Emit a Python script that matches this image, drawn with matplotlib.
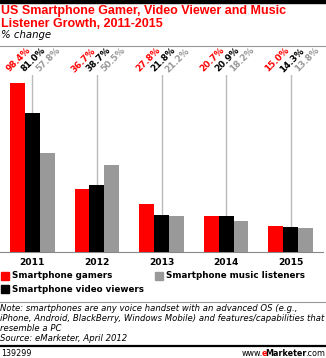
import numpy as np
import matplotlib.pyplot as plt
from matplotlib.lines import Line2D
from matplotlib.patches import Rectangle

years = ["2011", "2012", "2013", "2014", "2015"]
gamers = [98.4, 36.7, 27.8, 20.7, 15.0]
video = [81.0, 38.7, 21.8, 20.9, 14.3]
music = [57.8, 50.5, 21.2, 18.2, 13.8]

series = [
    ("Smartphone gamers", gamers, "#ff0000"),
    ("Smartphone video viewers", video, "#000000"),
    ("Smartphone music listeners", music, "#999999"),
]

W, H = 326, 358
plt.rcParams["font.family"] = ["DejaVu Sans"]
fig = plt.figure(figsize=(W / 100, H / 100), dpi=100)


def fy(px):
    return 1 - px / H


def fx(px):
    return px / W


# top bar and separators
fig.add_artist(Rectangle((0, fy(3)), 1, 3 / H, color="black", transform=fig.transFigure))
fig.add_artist(Line2D([0, 1], [fy(46), fy(46)], color="#999999", lw=0.8, transform=fig.transFigure))
fig.add_artist(Line2D([0, 1], [fy(302), fy(302)], color="#999999", lw=0.8, transform=fig.transFigure))
fig.add_artist(Line2D([0, 1], [fy(346), fy(346)], color="black", lw=1.6, transform=fig.transFigure))

fig.text(fx(1), fy(5), "US Smartphone Gamer, Video Viewer and Music\nListener Growth, 2011-2015",
         color="#ff0000", fontsize=9.0, fontweight="bold", family="Liberation Sans",
         va="top", ha="left", linespacing=1.08)
fig.text(fx(1), fy(30), "% change", fontsize=7.3, style="italic", va="top", ha="left")

ax = fig.add_axes([0, fy(252), 323 / W, 177 / H])
x = np.arange(len(years))
bw = 0.23
for i, (name, vals, col) in enumerate(series):
    ax.bar(x + (i - 1) * bw, vals, bw, color=col, label=name, zorder=3)
    for xi, v in zip(x, vals):
        ax.text(xi + (i - 1) * bw + 0.02, 1.085, f"{v:.1f}%", transform=ax.get_xaxis_transform(),
                rotation=45, color=col, fontsize=6.3, fontweight="bold",
                ha="center", va="center", rotation_mode="anchor")

ax.set_xlim(-0.5, 4.5)
ax.set_ylim(0, 103)
ax.set_xticks(x)
ax.set_xticklabels(years, fontsize=6.6, fontweight="bold")
ax.tick_params(axis="x", length=0, pad=4)
ax.set_yticks([])
for xi in x:
    ax.axvline(xi, color="#bbbbbb", lw=1, zorder=1)
for s in ["top", "right", "left"]:
    ax.spines[s].set_visible(False)
ax.spines["bottom"].set_color("#888888")

# legend
leg = [(1, 276, 0), (155, 276, 2), (1, 289, 1)]
for lx, ly, k in leg:
    name, vals, col = series[k]
    fig.add_artist(Rectangle((fx(lx), fy(ly + 4)), 8 / W, 8 / H, color=col, transform=fig.transFigure))
    fig.text(fx(lx + 11), fy(ly), name, fontsize=6.35, fontweight="bold", va="center", ha="left")

fig.text(fx(0), fy(304), "Note: smartphones are any voice handset with an advanced OS (e.g.,\n"
         "iPhone, Android, BlackBerry, Windows Mobile) and features/capabilities that\n"
         "resemble a PC\nSource: eMarketer, April 2012",
         fontsize=6.1, style="italic", va="top", ha="left", linespacing=1.12)
fig.text(fx(1), fy(354), "139299", fontsize=5.8, va="center", ha="left")

# www.eMarketer.com, built right to left
renderer = fig.canvas.get_renderer()
right = fx(325)
for txt, col, wt in [(".com", "black", "normal"), ("Marketer", "black", "bold"),
                     ("e", "#ff0000", "bold"), ("www.", "black", "normal")]:
    t = fig.text(right, fy(354), txt, fontsize=5.8, color=col, fontweight=wt,
                 va="center", ha="right")
    bb = t.get_window_extent(renderer)
    right -= (bb.width - 1.5) / W

fig.savefig("out.png", dpi=100)
